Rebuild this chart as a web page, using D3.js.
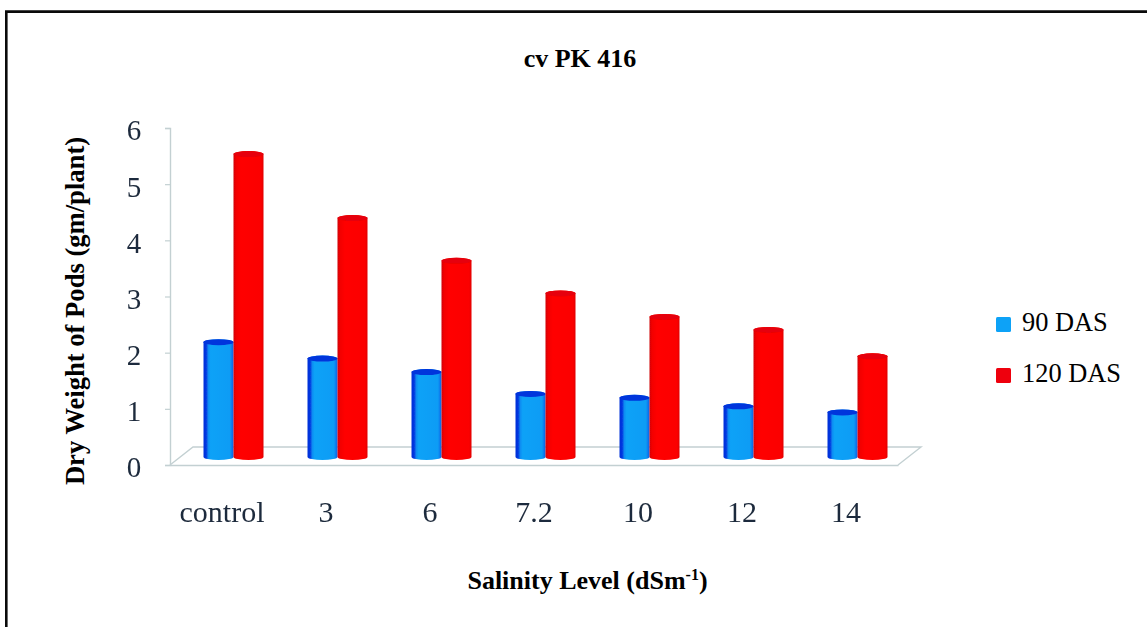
<!DOCTYPE html>
<html><head><meta charset="utf-8">
<script src="https://cdn.jsdelivr.net/npm/d3@7"></script>
<style>html,body{margin:0;padding:0;background:#fff}svg{display:block}text{font-family:"Liberation Serif",serif}</style>
</head><body><svg id="c" width="1147" height="627"></svg>
<script>
const categories = ["control","3","6","7.2","10","12","14"];
const seriesNames = ["90 DAS","120 DAS"];
const das90 = [2.15,1.86,1.62,1.23,1.16,1.01,0.9];
const das120 = [5.5,4.36,3.6,3.02,2.6,2.37,1.9];
const yTicks = [0,1,2,3,4,5,6];
const title = "cv PK 416";
const yTitle = "Dry Weight of Pods (gm/plant)";

const W=1147,H=627;
const svg=d3.select("#c");
const defs=svg.append("defs");
function blur(id,sd){defs.append("filter").attr("id",id).attr("filterUnits","userSpaceOnUse")
  .attr("x",-W).attr("y",-H).attr("width",3*W).attr("height",3*H)
  .append("feGaussianBlur").attr("stdDeviation",sd);}
blur("soft",0.6);blur("softT",0.45);
function grad(id,stops){const g=defs.append("linearGradient").attr("id",id);
  stops.forEach(([o,c])=>g.append("stop").attr("offset",o).attr("stop-color",c));}
grad("gBlue",[[0,"#0530d8"],[0.09,"#0538e0"],[0.16,"#0d8cf2"],[0.24,"#0ea2f7"],[0.88,"#0e9cf5"],[1,"#0a5fe6"]]);
grad("gRed",[[0,"#d00008"],[0.08,"#f20004"],[0.25,"#ff0000"],[0.92,"#fb0000"],[1,"#e00006"]]);

svg.append("path").attr("d",`M6.3,${H}V11.6H${W}`).attr("fill","none").attr("stroke","#0a0a0a").attr("stroke-width",2.6);

const x=d3.scaleBand().domain(categories).range([170,898]);
const y=d3.scaleLinear().domain([0,6]).range([465,128]);
const depthX=23,depthY=18,offX=11,offY=5;

const axisCol="#c3d0d2";
const g=svg.append("g").attr("filter","url(#softT)");
g.append("path").attr("fill","none").attr("stroke",axisCol).attr("stroke-width",1.4)
 .attr("d",`M${x.range()[0]},${y(0)}L${x.range()[0]+depthX},${y(0)-depthY}H${x.range()[1]+depthX}L${x.range()[1]},${y(0)}`);
const yAxis=d3.axisLeft(y).tickValues(yTicks).tickSize(5).tickPadding(25).tickFormat(d3.format("d"));
const ya=svg.append("g").attr("transform",`translate(${x.range()[0]},0)`).call(yAxis);
ya.select(".domain").attr("stroke",axisCol).attr("stroke-width",1.4).attr("filter","url(#softT)");
ya.selectAll(".tick line").attr("stroke",axisCol).attr("stroke-width",1.2);
ya.selectAll(".tick text").attr("font-family","Liberation Serif").attr("font-size",29).attr("fill","#1f2b3c").attr("filter","url(#softT)").attr("dy","0.41em").attr("text-anchor","middle").attr("x",-36);

const xAxis=d3.axisBottom(x).tickSize(0).tickPadding(36);
const xa=svg.append("g").attr("transform",`translate(0,${y(0)})`).call(xAxis);
xa.select(".domain").attr("stroke",axisCol).attr("stroke-width",1.4).attr("filter","url(#softT)");
xa.selectAll(".tick text").attr("font-family","Liberation Serif").attr("font-size",30).attr("fill","#1f2b3c").attr("filter","url(#softT)");

const inner=d3.scaleBand().domain(seriesNames).range([-29.5,30.5]);
const ry=3;
function cyl(v,bw){
  const t=y(v)-offY+ry,b=y(0)-offY-ry,rx=bw/2;
  return `M0,${t}A${rx},${ry} 0 0 1 ${bw},${t}V${b}A${rx},${ry} 0 0 1 0,${b}Z`;
}
const bars=svg.append("g").attr("filter","url(#soft)");
[[das90,"url(#gBlue)","#0534dc",seriesNames[0]],[das120,"url(#gRed)","#e60008",seriesNames[1]]].forEach(([vals,fill,cap,name])=>{
  const bw=inner.bandwidth();
  const s=bars.append("g").selectAll("g").data(categories).join("g")
    .attr("transform",c=>`translate(${x(c)+x.bandwidth()/2+offX+inner(name)},0)`);
  s.append("path").attr("d",(c,i)=>cyl(vals[i],bw)).attr("fill",fill);
  s.append("ellipse").attr("cx",bw/2).attr("cy",(c,i)=>y(vals[i])-offY+ry).attr("rx",bw/2).attr("ry",ry).attr("fill",cap);
});

svg.append("text").attr("x",580).attr("y",67).attr("text-anchor","middle").attr("font-size",26).attr("font-weight","bold").attr("fill","#000").text(title);
svg.append("text").attr("transform","translate(84,311) rotate(-90)").attr("text-anchor","middle").attr("font-size",26.6).attr("font-weight","bold").attr("fill","#000").text(yTitle);
const xt=svg.append("text").attr("x",587.5).attr("y",589).attr("text-anchor","middle").attr("font-size",26).attr("font-weight","bold").attr("fill","#000");
xt.append("tspan").text("Salinity Level (dSm");
xt.append("tspan").attr("font-size",16).attr("dy",-9).text("-1");
xt.append("tspan").attr("dy",9).text(")");

const leg=d3.scaleOrdinal().domain(seriesNames).range([324.5,375.5]);
const legCol=d3.scaleOrdinal().domain(seriesNames).range(["#0ea2f7","#ee0010"]);
const l=svg.append("g").selectAll("g").data(seriesNames).join("g").attr("transform",d=>`translate(0,${leg(d)})`);
l.append("rect").attr("x",996).attr("y",-7.5).attr("width",15).attr("height",15).attr("rx",1.5).attr("fill",d=>legCol(d)).attr("filter","url(#softT)");
l.append("text").attr("x",1022).attr("y",6).attr("font-size",26.4).attr("fill","#000").text(d=>d);
</script></body></html>
